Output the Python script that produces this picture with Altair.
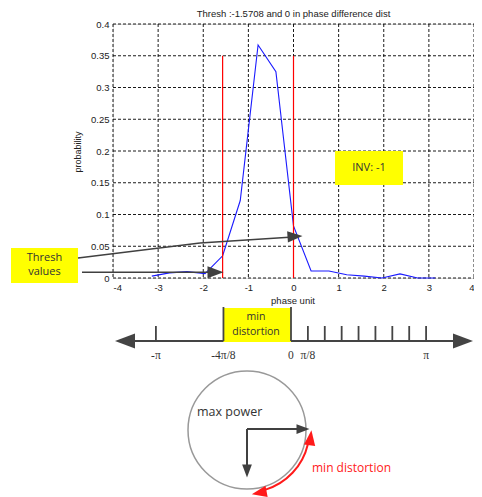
import math
import altair as alt
import pandas as pd

PI = math.pi

# ---- main distribution (phase unit vs probability) ----
phase = [-3.14, -2.75, -2.36, -1.96, -1.57, -1.18, -0.785, -0.39, 0.0,
         0.39, 0.785, 1.18, 1.57, 1.96, 2.36, 2.75, 3.14]
prob = [0.003, 0.008, 0.010, 0.007, 0.035, 0.122, 0.367, 0.325, 0.082,
        0.011, 0.011, 0.005, 0.003, 0.0, 0.0065, 0.0, 0.0]

thresholds = [-1.5708, 0.0]
thresh_low = [0.0, 0.0]
thresh_high = [0.35, 0.35]

x_ticks = [-4, -3, -2, -1, 0, 1, 2, 3, 4]
y_ticks = [0, 0.05, 0.1, 0.15, 0.2, 0.25, 0.3, 0.35, 0.4]

title_text = "Thresh :-1.5708 and 0 in phase difference dist"
x_title = "phase unit"
y_title = "probability"

# ---- number line ----
nl_ticks = [-PI] + [k * PI / 8 for k in range(1, 9)]
nl_edges = [-PI / 2, 0.0]
nl_label_pos = [-PI, -PI / 2, 0.0, PI / 8, PI]
nl_labels = ["-\u03c0", "-4\u03c0/8", "0", "\u03c0/8", "\u03c0"]

ARROW = "M1,0 L-1,-0.75 L-1,0.75 Z"
one = pd.DataFrame({"k": [0]})

W, H = 361, 254

xs = alt.Scale(domain=[-4, 4], nice=False, zero=False)
ys = alt.Scale(domain=[0, 0.4], nice=False, zero=False)
nl_scale = alt.Scale(domain=[-4.1395, 4.2558], nice=False, zero=False)

axis_common = dict(grid=False, ticks=False, domain=False, labelFont="Liberation Sans",
                   labelFontSize=9.5, labelColor="#222222",
                   labelExpr="'' + datum.value", title=None)
ax_x = alt.Axis(values=x_ticks, labelPadding=4, **axis_common)
ax_y = alt.Axis(values=y_ticks, labelPadding=4, **axis_common)


def text(t, x, y, size=11, color="#333333", font="Open Sans", align="center", angle=0):
    return alt.Chart(pd.DataFrame({"t": [t]})).mark_text(
        font=font, fontSize=size, color=color, align=align, baseline="middle", angle=angle
    ).encode(x=alt.value(x), y=alt.value(y), text="t:N")


def seg(x1, y1, x2, y2, color="#404040", w=1.6):
    return alt.Chart(one).mark_rule(color=color, strokeWidth=w).encode(
        x=alt.value(x1), y=alt.value(y1), x2=alt.value(x2), y2=alt.value(y2))


def head(x, y, angle, length, color="#404040"):
    return alt.Chart(one).mark_point(
        shape=ARROW, filled=True, size=length ** 2, color=color, opacity=1,
        angle=angle, strokeWidth=0).encode(x=alt.value(x), y=alt.value(y))


def box(x1, y1, x2, y2, color="#ffff00"):
    return alt.Chart(one).mark_rect(color=color).encode(
        x=alt.value(x1), x2=alt.value(x2), y=alt.value(y1), y2=alt.value(y2))


# dashed grid drawn as rules so it stays beneath the data
grid_x = alt.Chart(pd.DataFrame({"g": x_ticks})).mark_rule(
    color="#000000", strokeWidth=0.9, strokeDash=[3, 2]).encode(
    x=alt.X("g:Q", scale=xs, axis=ax_x), y=alt.value(0), y2=alt.value(H))
grid_y = alt.Chart(pd.DataFrame({"g": y_ticks})).mark_rule(
    color="#000000", strokeWidth=0.9, strokeDash=[3, 2]).encode(
    y=alt.Y("g:Q", scale=ys, axis=ax_y), x=alt.value(0), x2=alt.value(W))

line = alt.Chart(pd.DataFrame({"phase": phase, "prob": prob})).mark_line(
    color="#1a1aff", strokeWidth=1.1).encode(
    x=alt.X("phase:Q", scale=xs, axis=None),
    y=alt.Y("prob:Q", scale=ys, axis=ax_y))

red = alt.Chart(pd.DataFrame({"t": thresholds, "lo": thresh_low, "hi": thresh_high})).mark_rule(
    color="#ff0000", strokeWidth=1.2).encode(
    x=alt.X("t:Q", scale=xs, axis=None),
    y=alt.Y("lo:Q", scale=ys, axis=ax_y),
    y2="hi:Q")

layers = [grid_x, grid_y, line, red]

# titles
layers += [
    text(title_text, 180.5, -10, size=9.5, color="#222222", font="Liberation Sans"),
    text(x_title, 180, 277, size=9.5, color="#222222", font="Liberation Sans"),
    text(y_title, -35, 128, size=9, color="#222222", font="Liberation Sans", angle=270),
]

# INV box
layers += [box(222, 127, 290, 161), text("INV: -1", 256, 144, size=11)]

# Thresh values box and arrows
layers += [
    box(-102, 224, -35, 259),
    text("Thresh", -68.5, 234, size=11),
    text("values", -68.5, 248, size=11),
    seg(-35, 234, 87, 219), seg(87, 219, 180, 213),
    head(182, 212.4, 356, 15),
    seg(-31, 248.3, 100, 248.3),
    head(102.5, 248.3, 0, 16),
]

# number line
nl_small = alt.Chart(pd.DataFrame({"v": nl_ticks})).mark_rule(
    color="#444444", strokeWidth=1.8).encode(
    x=alt.X("v:Q", scale=nl_scale, axis=None), y=alt.value(302), y2=alt.value(317))
nl_big = alt.Chart(pd.DataFrame({"v": nl_edges})).mark_rule(
    color="#444444", strokeWidth=1.8).encode(
    x=alt.X("v:Q", scale=nl_scale, axis=None), y=alt.value(283), y2=alt.value(317))
nl_box = alt.Chart(pd.DataFrame({"a": [nl_edges[0]], "b": [nl_edges[1]]})).mark_rect(
    color="#ffff00").encode(
    x=alt.X("a:Q", scale=nl_scale, axis=None), x2="b:Q", y=alt.value(284), y2=alt.value(318))
nl_text = alt.Chart(pd.DataFrame({"v": nl_label_pos, "t": nl_labels})).mark_text(
    font="Liberation Serif", fontSize=11.5, color="#333333", baseline="middle").encode(
    x=alt.X("v:Q", scale=nl_scale, axis=None), y=alt.value(332), text="t:N")

layers += [
    seg(14, 317, 348, 317, color="#444444", w=2.2),
    head(12, 317, 180, 20, color="#444444"),
    head(350, 317, 0, 20, color="#444444"),
    nl_box, nl_small, nl_big, nl_text,
    text("min", 143, 293, size=10.5),
    text("distortion", 143, 308, size=10.5),
]

# circle diagram
circle = alt.Chart(one).mark_point(
    shape="circle", size=118 ** 2, filled=False, stroke="#999999", strokeWidth=1.5,
    opacity=1).encode(x=alt.value(134), y=alt.value(406))
arc = alt.Chart(one).mark_arc(color="#ff1a1a").encode(
    x=alt.value(134), y=alt.value(406),
    theta=alt.value(1.80), theta2=alt.value(2.85),
    radius=alt.value(63.5), radius2=alt.value(61.5))

layers += [
    circle,
    text("max power", 84, 388, size=12.5, align="left"),
    seg(134, 405, 186, 405, color="#404040", w=2),
    head(190, 405, 0, 13),
    seg(134, 405, 134, 443, color="#404040", w=2),
    head(134, 447, 90, 13),
    arc,
    head(197.5, 413.8, 277, 15, color="#ff1a1a"),
    head(146.2, 468.8, 169, 15, color="#ff1a1a"),
    text("min distortion", 199, 444, size=12, color="#ff2020", align="left"),
]

chart = alt.layer(*layers).resolve_scale(x="independent").properties(
    width=W, height=H,
    padding={"left": 105, "top": 16, "right": 0, "bottom": 219},
    autosize=alt.AutoSizeParams(type="none"),
).configure_view(stroke="#000000", strokeWidth=1).configure(background="white")

chart.save("out.html", embed_options={"renderer": "svg", "actions": False})
